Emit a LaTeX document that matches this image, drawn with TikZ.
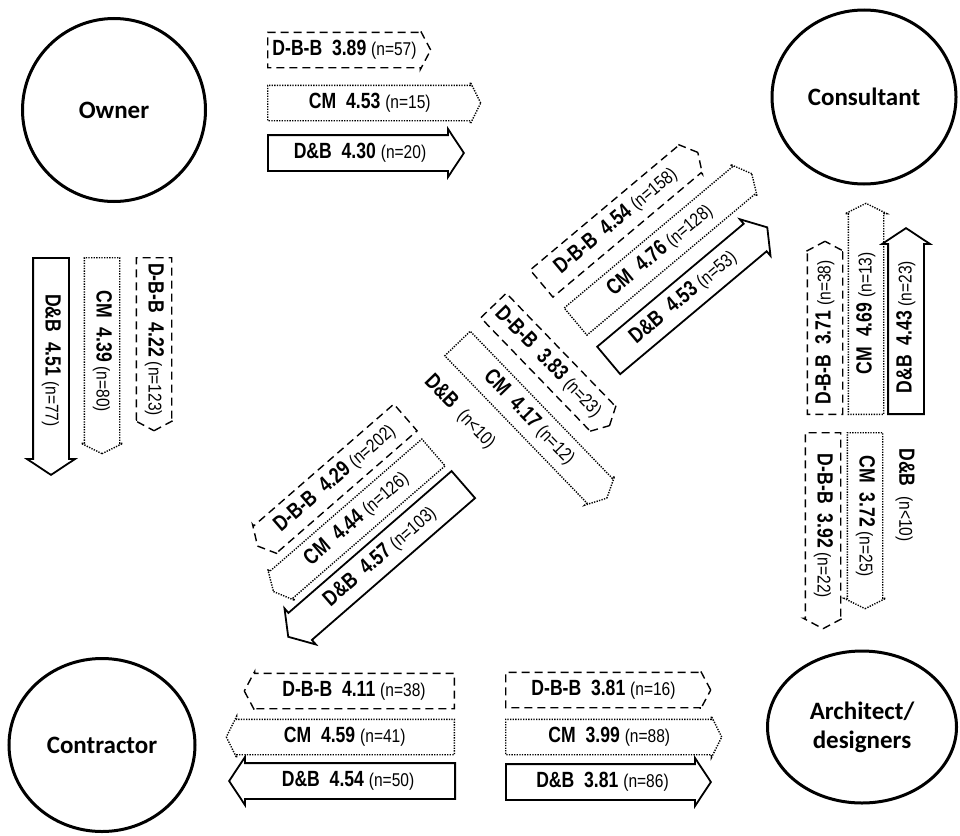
\documentclass[tikz,border=0pt]{standalone}
\usepackage{fontspec}
\setmainfont{Carlito}
\newfontfamily\narrowsans[FakeStretch=0.8]{Liberation Sans}
\newfontfamily\countsans[FakeStretch=0.84]{Liberation Sans}
\usetikzlibrary{shapes.arrows,shapes.geometric}
\newcommand\nsize{\countsans\fontsize{18.5}{18.5}\selectfont}
\newcommand\score[3]{\textbf{#1\ \ #2} {\nsize(n=#3)}}
\tikzset{
 party/.style={ellipse,draw,line width=3pt,font=\fontsize{25}{29}\selectfont\bfseries,align=center,inner sep=0pt},
 arrowbox/.style={single arrow,draw,anchor=tail,font=\narrowsans\fontsize{22}{22}\selectfont,text height=16pt,text depth=5pt,inner ysep=6.5pt,inner xsep=4pt},
 dbbarrow/.style={arrowbox,line width=1.4pt,dash pattern=on 8pt off 5pt,single arrow head extend=2pt,single arrow tip angle=124},
 cmarrow/.style={arrowbox,line width=1.4pt,dash pattern=on 1.3pt off 1.3pt,single arrow head extend=3pt,single arrow tip angle=127},
 dbarrow/.style={arrowbox,line width=1.8pt,single arrow head extend=6pt,single arrow tip angle=113},
 back/.style={shape border rotate=180},
 bare/.style={font=\narrowsans\fontsize{22}{22}\selectfont}
}
\begin{document}
\begin{tikzpicture}[x=1pt,y=-1pt]
 \useasboundingbox(0,0)rectangle(960,835);
 \node[party,minimum width=183pt,minimum height=183pt](owner)at(114,110){Owner};
 \node[party,minimum width=184pt,minimum height=174pt](consultant)at(864,97){Consultant};
 \node[party,minimum width=186pt,minimum height=173pt](contractor)at(102,745){Contractor};
 \node[party,minimum width=189pt,minimum height=152pt](architect)at(862,727){Architect/\\designers};
 % owner to consultant
 \node[dbbarrow,minimum height=163pt](oc-dbb)at(267,50){\score{D-B-B}{3.89}{57}};
 \node[cmarrow,minimum height=213pt](oc-cm)at(267,103){\score{CM}{4.53}{15}};
 \node[dbarrow,minimum height=196pt](oc-db)at(267,153){\score{D\&B}{4.30}{20}};
 % owner to contractor
 \node[dbarrow,rotate=-90,minimum height=217pt](ot-db)at(51,257){\score{D\&B}{4.51}{77}};
 \node[cmarrow,rotate=-90,minimum height=196pt](ot-cm)at(102,257){\score{CM}{4.39}{80}};
 \node[dbbarrow,rotate=-90,minimum height=173pt](ot-dbb)at(154,257){\score{D-B-B}{4.22}{123}};
 % architect to consultant
 \node[dbbarrow,rotate=90,minimum height=173pt](ac-dbb)at(825,415){\score{D-B-B}{3.71}{38}};
 \node[cmarrow,rotate=90,minimum height=211pt](ac-cm)at(866,415){\score{CM}{4.69}{13}};
 \node[dbarrow,rotate=90,minimum height=186pt](ac-db)at(906,415){\score{D\&B}{4.43}{23}};
 % consultant to architect
 \node[dbbarrow,rotate=-90,minimum height=196pt](ca-dbb)at(823,432){\score{D-B-B}{3.92}{22}};
 \node[cmarrow,rotate=-90,minimum height=176pt](ca-cm)at(865,432){\score{CM}{3.72}{25}};
 \node[bare,rotate=-90](ca-db)at(905,495){\textbf{D\&B}\ \ {\nsize(n<10)}};
 % architect to contractor
 \node[dbbarrow,back,minimum height=210pt](at-dbb)at(455,691){\score{D-B-B}{4.11}{38}};
 \node[cmarrow,back,minimum height=228pt](at-cm)at(455,737){\score{CM}{4.59}{41}};
 \node[dbarrow,back,minimum height=226pt](at-db)at(456,781){\score{D\&B}{4.54}{50}};
 % contractor to architect
 \node[dbbarrow,minimum height=205pt](ta-dbb)at(505,690){\score{D-B-B}{3.81}{16}};
 \node[cmarrow,minimum height=216pt](ta-cm)at(505,737){\score{CM}{3.99}{88}};
 \node[dbarrow,minimum height=205pt](ta-db)at(505,782){\score{D\&B}{3.81}{86}};
 % contractor to consultant
 \node[dbbarrow,rotate=40,minimum height=204pt](tc-dbb)at(541,284){\score{D-B-B}{4.54}{158}};
 \node[cmarrow,rotate=40,minimum height=230pt](tc-cm)at(575,322){\score{CM}{4.76}{128}};
 \node[dbarrow,rotate=40,minimum height=207pt](tc-db)at(608,361){\score{D\&B}{4.53}{53}};
 % consultant to contractor
 \node[dbbarrow,back,rotate=41,minimum height=196pt](ct-dbb)at(406,417){\score{D-B-B}{4.29}{202}};
 \node[cmarrow,back,rotate=41,minimum height=212pt](ct-cm)at(434,452){\score{CM}{4.44}{126}};
 \node[dbarrow,back,rotate=41,minimum height=232pt](ct-db)at(464,484){\score{D\&B}{4.57}{103}};
 % owner to architect
 \node[dbbarrow,rotate=-46,minimum height=167pt](oa-dbb)at(493,305){\score{D-B-B}{3.83}{23}};
 \node[cmarrow,rotate=-46,minimum height=215pt](oa-cm)at(457,343){\score{CM}{4.17}{12}};
 \node[bare,rotate=-46](oa-db)at(460,412){\textbf{D\&B}\ \ {\nsize(n<10)}};
\end{tikzpicture}
\end{document}
